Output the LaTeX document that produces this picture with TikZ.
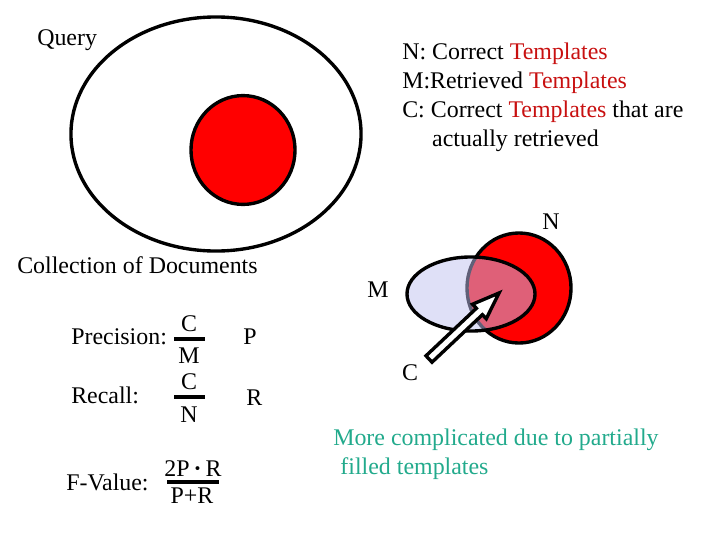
\documentclass[tikz,border=0pt]{standalone}
\usepackage{fontspec}
\setmainfont{Liberation Serif}
\usepackage{xcolor}
\definecolor{tplred}{RGB}{200,16,16}
\definecolor{hitred}{RGB}{255,0,0}
\definecolor{retblue}{RGB}{192,193,240}
\definecolor{notegreen}{RGB}{34,170,140}
\usetikzlibrary{arrows.meta,positioning,shapes.geometric,calc}

\begin{document}
\begin{tikzpicture}[x=0.025cm, y=-0.025cm,
    txt/.style={inner sep=0pt, anchor=base west, font=\fontsize{17}{20.5}\selectfont},
    num/.style={inner sep=0pt, anchor=base, font=\fontsize{17}{20.5}\selectfont},
    fracbar/.style={line width=2.4pt},
    outline/.style={draw=black, line width=2.4pt}]
  \useasboundingbox (0,0) rectangle (720,540);
  % Document collection and the query hits
  \node[outline, ellipse, minimum width=7.25cm, minimum height=5.85cm] (docs) at (216,134) {};
  \node[outline, ellipse, fill=hitred, minimum width=2.6cm, minimum height=2.72cm] (hits) at (243,150) {};
  \node[txt] (query) at (37,45) {Query};
  \node[txt] (collection) at (17,273) {Collection of Documents};
  % Definitions
  \node[txt, align=left] (defs) at (402,146) {N: Correct \textcolor{tplred}{Templates}\\M:Retrieved \textcolor{tplred}{Templates}\\C: Correct \textcolor{tplred}{Templates} that are\\\hspace*{1.25em}actually retrieved};
  % Venn diagram
  \node[outline, ellipse, fill=hitred, minimum width=2.6cm, minimum height=2.75cm] (correct) at (519,288) {};
  \node[outline, ellipse, fill=retblue, fill opacity=0.5, minimum width=3.2cm, minimum height=1.85cm] (retrieved) at (471,294) {};
  \node[num, anchor=center] (nlab) at (551,222) {N};
  \node[num, anchor=center] (mlab) at (378,290) {M};
  \node[num, anchor=center] (clab) at (410,373) {C};
  \coordinate (ctail) at (429,359);
  \coordinate (ctip) at (499,293);
  \coordinate (chead) at ($(ctail)!0.72!(ctip)$);
  \draw[line width=2.4pt, fill=white, line join=miter]
    ($(ctail)!0.11cm!90:(ctip)$) -- ($(chead)!0.11cm!90:(ctip)$) -- ($(chead)!0.25cm!90:(ctip)$)
    -- (ctip) -- ($(chead)!0.25cm!-90:(ctip)$) -- ($(chead)!0.11cm!-90:(ctip)$)
    -- ($(ctail)!0.11cm!-90:(ctip)$) -- cycle;
  % Measures
  \node[txt] (prec) at (71,344) {Precision:};
  \node[num] (precnum) at (189,331) {C};
  \node[num] (precden) at (189,363) {M};
  \draw[fracbar] (174,339) -- (205,339);
  \node[txt] (pvar) at (243,344) {P};
  \node[txt] (rec) at (71,403) {Recall:};
  \node[num] (recnum) at (189,389) {C};
  \node[num] (recden) at (189,422) {N};
  \draw[fracbar] (174,397) -- (205,397);
  \node[txt] (rvar) at (246,405) {R};
  \node[txt] (fval) at (66,490) {F-Value:};
  \node[num] (fnum) at (193,476) {2P\,\textbf{·}\,R};
  \node[num] (fden) at (192,503) {P+R};
  \draw[fracbar] (167,482) -- (219,482);
  % Note
  \node[txt, align=left, text=notegreen] (note) at (333,474) {More complicated due to partially\\\hspace*{0.3em}filled templates};
\end{tikzpicture}
\end{document}
